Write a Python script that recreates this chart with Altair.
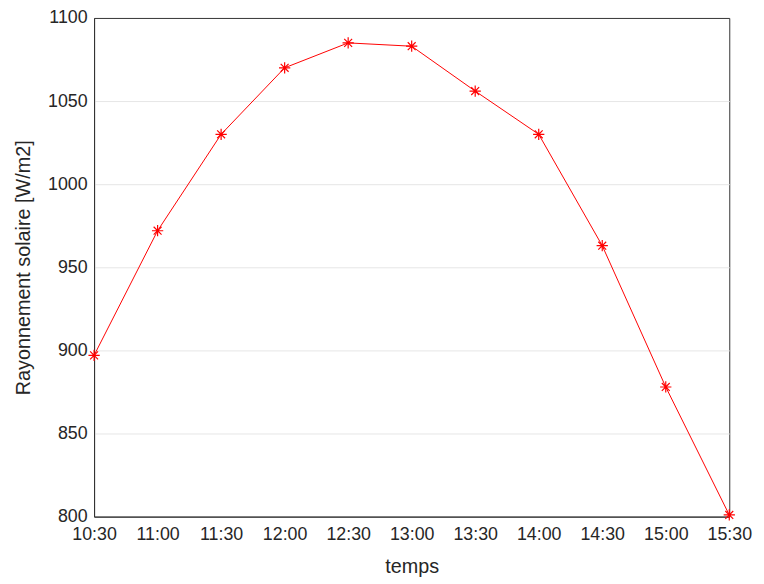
import altair as alt
import pandas as pd

times = ["10:30", "11:00", "11:30", "12:00", "12:30", "13:00",
         "13:30", "14:00", "14:30", "15:00", "15:30"]
irradiance = [897, 972, 1030, 1070, 1085, 1083, 1056, 1030, 963, 878, 801]
y_ticks = [800, 850, 900, 950, 1000, 1050, 1100]

df = pd.DataFrame({"temps": times, "ray": irradiance})

asterisk = ("M-1,0L1,0M0,-1L0,1M-0.7,-0.7L0.7,0.7M-0.7,0.7L0.7,-0.7")

x_enc = alt.X("temps:O", sort=times,
              scale=alt.Scale(type="point", padding=0),
              axis=alt.Axis(title="temps", labelAngle=0, ticks=False,
                            labelPadding=9, titlePadding=13,
                            gridOpacity=alt.condition("datum.value == '15:30' || datum.value == '10:30'",
                                                      alt.value(0), alt.value(1))))
y_enc = alt.Y("ray:Q", scale=alt.Scale(domain=[800, 1100], nice=False, zero=False),
              axis=alt.Axis(title="Rayonnement solaire [W/m2]", values=y_ticks,
                            format="d", ticks=False, labelPadding=7, titlePadding=14,
                            gridOpacity=alt.condition("datum.value == 1100 || datum.value == 800",
                                                      alt.value(0), alt.value(1))))

line = alt.Chart(df).mark_line(color="#ff0000", strokeWidth=1).encode(x=x_enc, y=y_enc)
pts = alt.Chart(df).mark_point(shape=asterisk, color="#ff0000", filled=False,
                               size=130, strokeWidth=1.2, opacity=1).encode(x=x_enc, y=y_enc)

chart = (line + pts).properties(
    width=642, height=504,
    background="white",
    autosize=alt.AutoSizeParams(type="none"),
    padding={"left": 87, "top": 7, "right": 27, "bottom": 62},
).configure_view(stroke="#333333", strokeWidth=1).configure_axis(
    labelFont="Liberation Sans", titleFont="Liberation Sans",
    labelFontSize=18, titleFontSize=20, labelColor="#262626", titleColor="#262626",
    titleFontWeight="normal", gridColor="#e6e6e6", gridWidth=1,
    domainColor="#333333", labelFontWeight="normal",
)

chart.save("out.html", embed_options={"renderer": "svg", "actions": False})
